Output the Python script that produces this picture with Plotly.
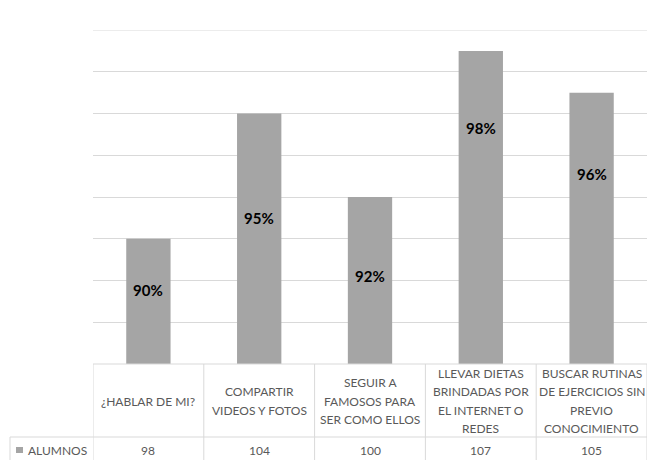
import plotly.graph_objects as go

# Categories (lines of each header cell), values and percentage labels
categories = [
    ["¿HABLAR DE MI?"],
    ["COMPARTIR", "VIDEOS Y FOTOS"],
    ["SEGUIR A", "FAMOSOS PARA", "SER COMO ELLOS"],
    ["LLEVAR DIETAS", "BRINDADAS POR", "EL INTERNET O", "REDES"],
    ["BUSCAR RUTINAS", "DE EJERCICIOS SIN", "PREVIO", "CONOCIMIENTO"],
]
alumnos = [98, 104, 100, 107, 105]
percent_labels = ["90%", "95%", "92%", "98%", "96%"]
series_name = "ALUMNOS"

# Vertical placement of the percentage labels inside each bar (axis units)
label_y = [95.55, 99.0, 96.2, 103.3, 101.1]

Y_MIN, Y_MAX = 92, 108
GRID = "#d9d9d9"
BAR = "#a5a5a5"
TXT = "#595959"
FONT = "Lato"

x_idx = list(range(len(alumnos)))

fig = go.Figure(go.Bar(
    x=x_idx, y=[v - Y_MIN for v in alumnos], base=Y_MIN,
    marker=dict(color=BAR, line=dict(width=0)),
    width=0.4, hoverinfo="skip", name=series_name,
))

W, H = 650, 460
L, R, T, B = 93, 3, 30, 96
plot_h = H - T - B


def py(px):
    """Paper y for a pixel offset below the plot bottom."""
    return -px / plot_h


shapes = []
annotations = []

# top gridline (the axis skips the one at the range edge)
shapes.append(dict(type="line", xref="x", yref="y", x0=-0.5, x1=4.5,
                   y0=Y_MAX, y1=Y_MAX, line=dict(color=GRID, width=1),
                   layer="below"))

# percentage labels in the bars
for i, (lab, yv) in enumerate(zip(percent_labels, label_y)):
    annotations.append(dict(x=i, y=yv, xref="x", yref="y",
                            text="<b>" + lab + "</b>", showarrow=False,
                            font=dict(family=FONT, size=15, color="#000000")))

# data table below the plot
header_bottom = 73
row_bottom = 100
line_style = dict(color=GRID, width=1)
# baseline / top border of the table
shapes.append(dict(type="line", xref="x", yref="paper", x0=-0.5, x1=4.5,
                   y0=0, y1=0, line=line_style))
# row separator, extending under the series label cell
shapes.append(dict(type="line", xref="paper", yref="paper",
                   x0=-(L - 10) / (W - L - R), x1=1, y0=py(header_bottom),
                   y1=py(header_bottom), line=line_style))
# series label cell left edge
shapes.append(dict(type="line", xref="paper", yref="paper",
                   x0=-(L - 10) / (W - L - R), x1=-(L - 10) / (W - L - R),
                   y0=py(header_bottom), y1=py(row_bottom), line=line_style))
# column separators
for k in range(len(alumnos) + 1):
    shapes.append(dict(type="line", xref="x", yref="paper", x0=k - 0.5,
                       x1=k - 0.5, y0=0, y1=py(row_bottom), line=line_style))

# header text, one annotation per line
line_gap = 18.5
header_mid = 37
for i, lines in enumerate(categories):
    n = len(lines)
    for j, t in enumerate(lines):
        off = header_mid + (j - (n - 1) / 2) * line_gap
        annotations.append(dict(x=i, y=py(off), xref="x", yref="paper",
                                text=t, showarrow=False, yanchor="middle",
                                font=dict(family=FONT, size=12, color=TXT)))
    annotations.append(dict(x=i, y=py(86), xref="x", yref="paper",
                            text=str(alumnos[i]), showarrow=False,
                            yanchor="middle",
                            font=dict(family=FONT, size=12, color=TXT)))

# series label with legend key
key_x0 = -(L - 16) / (W - L - R)
key_x1 = -(L - 23) / (W - L - R)
shapes.append(dict(type="rect", xref="paper", yref="paper", x0=key_x0,
                   x1=key_x1, y0=py(83), y1=py(89),
                   fillcolor=BAR, line=dict(width=0)))
annotations.append(dict(x=-(L - 26) / (W - L - R), y=py(86), xref="paper",
                        yref="paper", text=series_name, showarrow=False,
                        xanchor="left", yanchor="middle",
                        font=dict(family=FONT, size=12, color=TXT)))

fig.update_layout(
    width=W, height=H,
    margin=dict(l=L, r=R, t=T, b=B, pad=0),
    paper_bgcolor="white", plot_bgcolor="white",
    showlegend=False, bargap=0.6,
    xaxis=dict(range=[-0.5, 4.5], showticklabels=False, showgrid=False,
               zeroline=False, showline=False, ticks="", fixedrange=True),
    yaxis=dict(range=[Y_MIN, Y_MAX], dtick=2, tick0=Y_MIN,
               showticklabels=False, gridcolor=GRID, gridwidth=1,
               zeroline=False, showline=False, ticks="", fixedrange=True),
    shapes=shapes, annotations=annotations,
)

fig.write_html("out.html", config={"displayModeBar": False})
